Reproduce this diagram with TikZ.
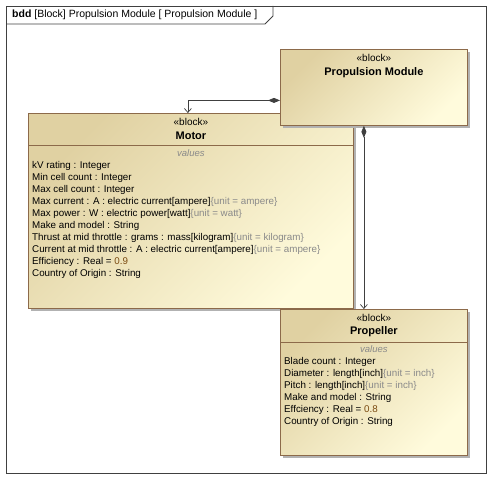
\documentclass[tikz,border=0pt]{standalone}
\usepackage{fontspec}
\setmainfont{Liberation Sans}
\usetikzlibrary{arrows.meta,positioning,shadows}

\definecolor{blocktop}{HTML}{E0D1A2}
\definecolor{blockbottom}{HTML}{FFFBDC}
\definecolor{blockedge}{HTML}{8C6A4A}
\definecolor{unitgray}{HTML}{8A8A8A}
\definecolor{valbrown}{HTML}{7A4A10}
\definecolor{framegray}{HTML}{404040}

\newcommand{\unitof}[1]{\textcolor{unitgray}{\{unit = #1\}}}
\newcommand{\dval}[1]{\textcolor{valbrown}{#1}}

\begin{document}
\begin{tikzpicture}[
  x=1pt, y=-1pt,
  block/.style={rectangle, draw=blockedge, line width=0.8pt, anchor=north west,
                inner sep=0pt, top color=blocktop, bottom color=blockbottom,
                shading angle=45,
                drop shadow={shadow xshift=3pt, shadow yshift=-3pt,
                             fill=black!30, opacity=1}},
  stereo/.style={font=\fontsize{10}{12}\selectfont},
  bname/.style={font=\fontsize{11}{13}\selectfont\bfseries},
  comptitle/.style={font=\fontsize{9.5}{11}\selectfont\itshape, text=unitgray},
  attrs/.style={anchor=north west, align=left, inner sep=0pt,
                font=\fontsize{9.8}{12}\selectfont},
  part/.style={draw=framegray, line width=0.7pt,
               {Diamond[length=12pt,width=5pt]}-{Straight Barb[length=4pt,width=7pt]}},
]
  \useasboundingbox (0,0) rectangle (491,481);

  % diagram frame
  \draw[framegray, line width=0.8pt] (6,6) rectangle (486,473);
  \draw[framegray, line width=0.8pt] (6,24) -- (265,24) -- (273,16) -- (273,6);
  \node[anchor=west, inner sep=0pt, font=\fontsize{10.5}{12}\selectfont] (title) at (12,15)
    {\textbf{bdd} [Block] Propulsion Module [ Propulsion Module ]};

  % Motor
  \node[block, minimum width=325pt, minimum height=195pt] (motor) at (28,113) {};
  \node[stereo] (motorst) at (motor.north |- 0,122) {«block»};
  \node[bname] (motorname) at (motor.north |- 0,136) {Motor};
  \draw[blockedge, line width=0.8pt] (motor.west |- 0,145) -- (motor.east |- 0,145);
  \node[comptitle] (motorvals) at (motor.north |- 0,153) {values};
  \node[attrs] (motorattrs) at (32,161.5) {%
    kV rating : Integer\\
    Min cell count : Integer\\
    Max cell count : Integer\\
    Max current : A : electric current[ampere]\unitof{ampere}\\
    Max power : W : electric power[watt]\unitof{watt}\\
    Make and model : String\\
    Thrust at mid throttle : grams : mass[kilogram]\unitof{kilogram}\\
    Current at mid throttle : A : electric current[ampere]\unitof{ampere}\\
    Efficiency : Real = \dval{0.9}\\
    Country of Origin : String};

  % Propulsion Module
  \node[block, minimum width=187pt, minimum height=76pt] (propmod) at (280,49) {};
  \node[stereo] (propmodst) at (propmod.north |- 0,58) {«block»};
  \node[bname] (propmodname) at (propmod.north |- 0,73) {Propulsion Module};

  % Propeller
  \node[block, minimum width=187pt, minimum height=146pt] (propeller) at (280,309) {};
  \node[stereo] (propst) at (propeller.north |- 0,318) {«block»};
  \node[bname] (propname) at (propeller.north |- 0,332) {Propeller};
  \draw[blockedge, line width=0.8pt] (propeller.west |- 0,342) -- (propeller.east |- 0,342);
  \node[comptitle] (propvals) at (propeller.north |- 0,349) {values};
  \node[attrs] (propattrs) at (284,357) {%
    Blade count : Integer\\
    Diameter : length[inch]\unitof{inch}\\
    Pitch : length[inch]\unitof{inch}\\
    Make and model : String\\
    Effciency : Real = \dval{0.8}\\
    Country of Origin : String};

  % part associations
  \draw[part] ([yshift=-13pt]propmod.west) -| ([xshift=-3pt]motor.north);
  \draw[part] ([xshift=-10pt]propmod.south) -- ([xshift=-10pt]propmod.south |- propeller.north);
\end{tikzpicture}
\end{document}
